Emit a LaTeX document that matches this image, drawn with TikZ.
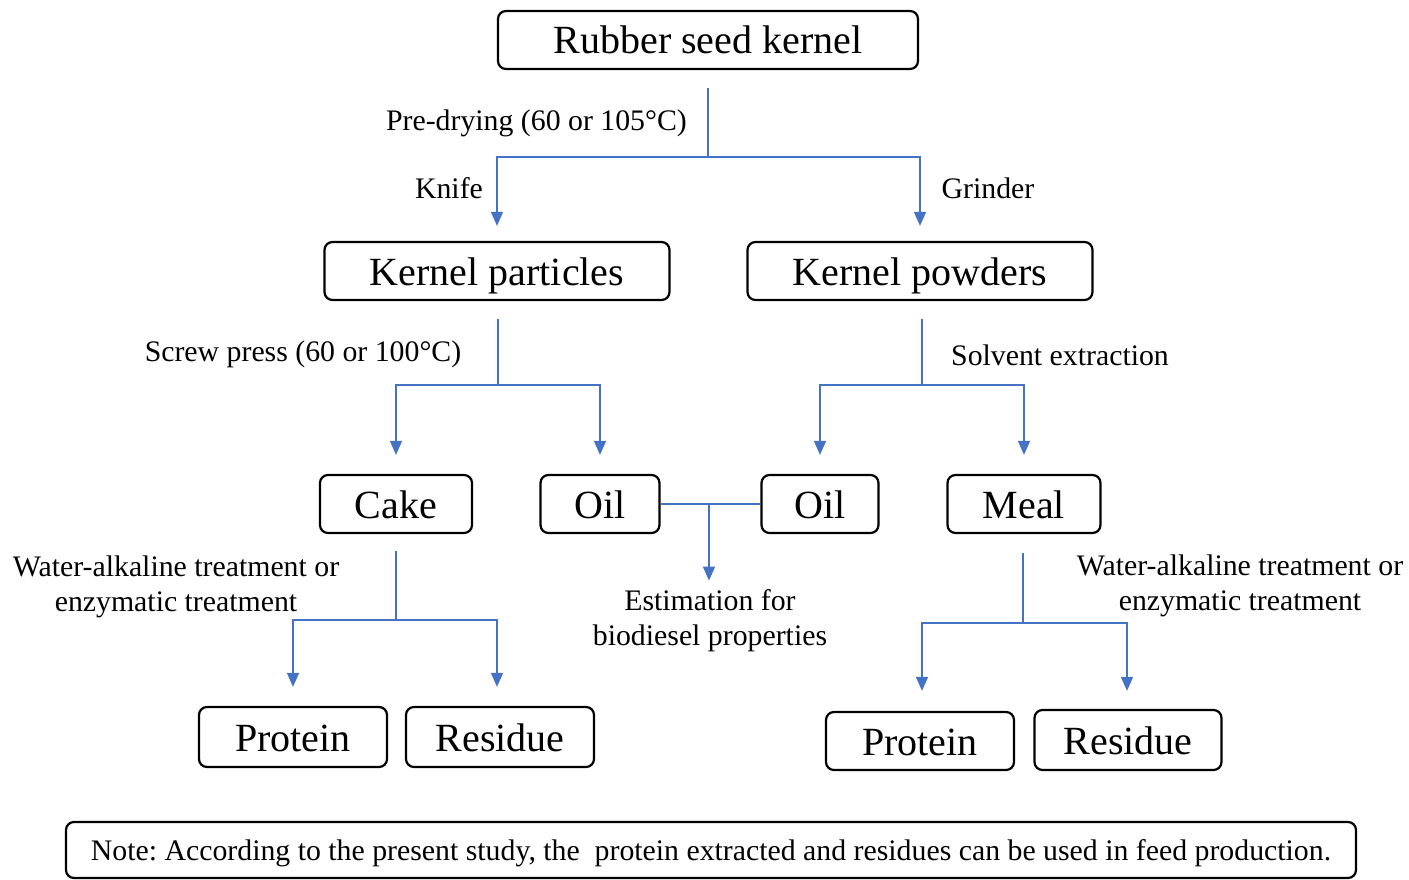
\documentclass[tikz,border=0pt]{standalone}
\usepackage{fontspec}
\setmainfont{Liberation Serif}
\usetikzlibrary{arrows.meta}
\definecolor{flowblue}{RGB}{68,114,196}
\frenchspacing
\tikzset{
  box/.style={draw=black, line width=2.2pt, rounded corners=8pt, minimum height=58pt, inner sep=0pt,
    text height=28pt, text depth=0pt, font=\fontsize{40}{48}\selectfont},
  lbl/.style={inner sep=0pt, align=center, yshift=-3pt, font=\fontsize{29.8}{35}\selectfont},
  link/.style={draw=flowblue, line width=1.5pt},
  arr/.style={link, -{Triangle[width=12pt,length=14pt]}},
}
\begin{document}
\begin{tikzpicture}[x=1pt,y=-1pt]
\useasboundingbox (0,0) rectangle (1409,880);

% boxes
\node[box, minimum width=420pt] (rsk) at (708,40) {Rubber seed kernel};
\node[box, minimum width=345pt] (kp) at (497,271) {Kernel particles};
\node[box, minimum width=345pt] (kpw) at (920,271) {Kernel powders};
\node[box, minimum width=152pt] (cake) at (396,504) {Cake};
\node[box, minimum width=119pt] (oil1) at (600,504) {Oil};
\node[box, minimum width=117pt] (oil2) at (820,504) {Oil};
\node[box, minimum width=153pt] (meal) at (1024,504) {Meal};
\node[box, minimum width=188pt, minimum height=60pt] (protL) at (293,737) {Protein};
\node[box, minimum width=188pt, minimum height=60pt] (resL) at (500,737) {Residue};
\node[box, minimum width=188pt, minimum height=58pt] (protR) at (920,741) {Protein};
\node[box, minimum width=187pt, minimum height=60pt] (resR) at (1128,740) {Residue};
\node[box, minimum width=1290pt, minimum height=56pt, text height=20pt, font=\fontsize{29.8}{34}\selectfont] (note) at (711,850)
  {Note: According to the present study, the\ \ protein extracted and residues can be used in feed production.};

% labels
\node[lbl, anchor=east] (l1) at (687,120) {Pre-drying (60 or 105°C)};
\node[lbl] (l2) at (449,185) {Knife};
\node[lbl] (l3) at (988,185) {Grinder};
\node[lbl] (l4) at (303,351) {Screw press (60 or 100°C)};
\node[lbl] (l5) at (1060,352) {Solvent extraction};
\node[lbl] (l6) at (176,584) {Water-alkaline treatment or\\enzymatic treatment};
\node[lbl] (l7) at (1240,583) {Water-alkaline treatment or\\enzymatic treatment};
\node[lbl] (est) at (710,618) {Estimation for\\biodiesel properties};

% junctions
\coordinate (j1) at (708,157);
\coordinate (j2) at (498,385);
\coordinate (j3) at (922,385);
\coordinate (j4) at (709,504);
\coordinate (j5) at (396,620);
\coordinate (j6) at (1023,623);

% connectors
\draw[link] ([yshift=-18pt]rsk.south) -- (j1);
\draw[arr] (j1) -| ([yshift=15pt]kp.north);
\draw[arr] (j1) -| ([yshift=15pt]kpw.north);

\draw[link] ([yshift=-18pt]kp.south -| j2) -- (j2);
\draw[arr] (j2) -| ([yshift=19pt]cake.north);
\draw[arr] (j2) -| ([yshift=19pt]oil1.north);

\draw[link] ([yshift=-18pt]kpw.south -| j3) -- (j3);
\draw[arr] (j3) -| ([yshift=19pt]oil2.north);
\draw[arr] (j3) -| ([yshift=19pt]meal.north);

\draw[link] (oil1.east) -- (oil2.west);
\draw[arr] (j4) -- ([yshift=9pt]est.north -| j4);

\draw[link] ([yshift=-17pt]cake.south) -- (j5);
\draw[arr] (j5) -| ([yshift=19pt]protL.north);
\draw[arr] (j5) -| ([yshift=19pt]resL.north -| 497,0);

\draw[link] ([yshift=-19pt]meal.south -| j6) -- (j6);
\draw[arr] (j6) -| ([yshift=20pt]protR.north -| 922,0);
\draw[arr] (j6) -| ([yshift=18pt]resR.north -| 1127,0);
\end{tikzpicture}
\end{document}
